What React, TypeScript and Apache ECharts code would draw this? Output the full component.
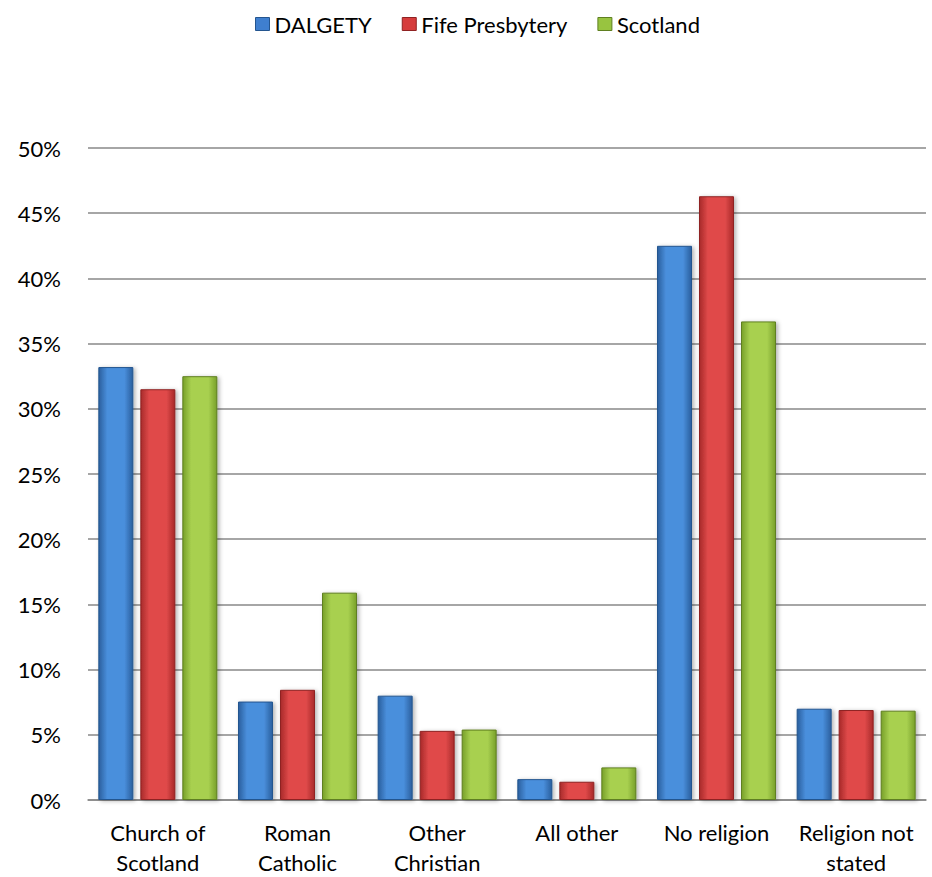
import React, { useEffect, useRef } from "react";
import * as echarts from "echarts";

const categories = [
  "Church of\nScotland",
  "Roman\nCatholic",
  "Other\nChristian",
  "All other",
  "No religion",
  "Religion not\nstated",
];
const seriesNames = ["DALGETY", "Fife Presbytery", "Scotland"];
const dalgety = [33.2, 7.55, 8.0, 1.6, 42.5, 7.0];
const fife = [31.5, 8.45, 5.3, 1.4, 46.3, 6.9];
const scotland = [32.5, 15.9, 5.4, 2.5, 36.7, 6.85];
const yTicks = { min: 0, max: 50, interval: 5 };

const palettes = [
  { edge: "#2a5f9e", mid: "#4a8fdc", border: "#24558f", legend: "#3f7fcf" },
  { edge: "#a82a2a", mid: "#e04a4a", border: "#8f2222", legend: "#d63c3c" },
  { edge: "#78a02a", mid: "#a8d050", border: "#5f7f20", legend: "#98c440" },
];

export default function App() {
  const ref = useRef<HTMLDivElement>(null);
  useEffect(() => {
    if (!ref.current) return;
    const chart = echarts.init(ref.current, undefined, { renderer: "svg" });
    const data = [dalgety, fife, scotland];
    chart.setOption({
      animation: false,
      textStyle: { fontFamily: "Lato, 'Noto Sans', sans-serif" },
      legend: {
        top: 8,
        left: 250,
        itemWidth: 14,
        itemHeight: 13,
        itemGap: 30,
        icon: "rect",
        textStyle: { fontSize: 22, color: "#000" },
        data: seriesNames.map((n, i) => ({
          name: n,
          itemStyle: { color: palettes[i].legend, borderColor: palettes[i].border, borderWidth: 1 },
        })),
      },
      grid: { left: 88, right: 6, top: 148, bottom: 74, containLabel: false },
      xAxis: {
        type: "category",
        data: categories,
        axisLine: { show: true, lineStyle: { color: "#888", width: 1.5 } },
        axisTick: { show: false },
        axisLabel: {
          fontSize: 22,
          color: "#000",
          margin: 17,
          lineHeight: 30,
          interval: 0,
        },
      },
      yAxis: {
        type: "value",
        min: yTicks.min,
        max: yTicks.max,
        interval: yTicks.interval,
        axisLine: { show: false },
        axisTick: { show: false },
        splitLine: { lineStyle: { color: "#888", width: 1.5 } },
        axisLabel: {
          fontSize: 22,
          color: "#000",
          margin: 27,
          formatter: (v: number) => v + "%",
        },
      },
      series: seriesNames.map((n, i) => ({
        name: n,
        type: "bar",
        data: data[i],
        barWidth: 35,
        barGap: "20%",
        itemStyle: {
          color: new echarts.graphic.LinearGradient(0, 0, 1, 0, [
            { offset: 0, color: palettes[i].edge },
            { offset: 0.25, color: palettes[i].mid },
            { offset: 0.75, color: palettes[i].mid },
            { offset: 1, color: palettes[i].edge },
          ]),
          borderColor: palettes[i].border,
          borderWidth: 1,
          shadowColor: "rgba(0,0,0,0.3)",
          shadowBlur: 4,
          shadowOffsetX: 2,
          shadowOffsetY: 1,
        },
      })),
    });
    return () => chart.dispose();
  }, []);
  return (
    <div
      ref={ref}
      style={{ position: "absolute", left: 0, top: 0, width: 932, height: 877 }}
    />
  );
}
